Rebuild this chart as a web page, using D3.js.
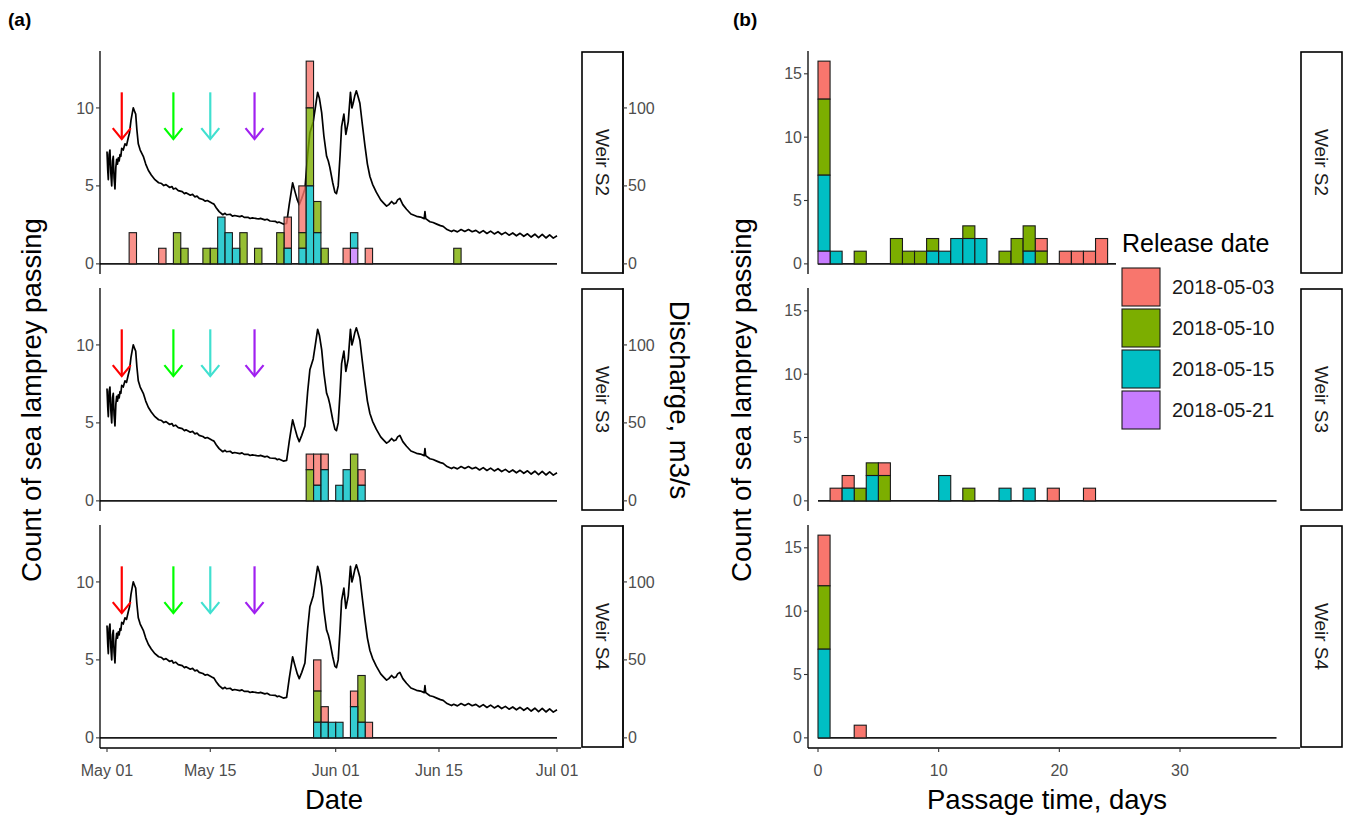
<!DOCTYPE html>
<html>
<head>
<meta charset="utf-8">
<script src="https://cdn.jsdelivr.net/npm/d3@7"></script>
<style>
body { margin: 0; background: #fff; }
text { font-family: "Liberation Sans", Arial, sans-serif; }
</style>
</head>
<body>
<script>
// release groups, facets
var releases = ["2018-05-03", "2018-05-10", "2018-05-15", "2018-05-21"];
var weirs = ["Weir S2", "Weir S3", "Weir S4"];

// (a) daily passage counts: [bin start date, n 05-03, n 05-10, n 05-15, n 05-21]
var passDateS2 = [
  ["2018-05-04", 2, 0, 0, 0], ["2018-05-08", 1, 0, 0, 0], ["2018-05-10", 0, 2, 0, 0],
  ["2018-05-11", 0, 1, 0, 0], ["2018-05-14", 0, 1, 0, 0], ["2018-05-15", 0, 1, 0, 0],
  ["2018-05-16", 0, 0, 3, 0], ["2018-05-17", 0, 0, 2, 0], ["2018-05-18", 0, 0, 1, 0],
  ["2018-05-19", 0, 2, 0, 0], ["2018-05-21", 0, 1, 0, 0], ["2018-05-24", 0, 2, 0, 0],
  ["2018-05-25", 2, 0, 1, 0], ["2018-05-27", 3, 1, 1, 0], ["2018-05-28", 3, 5, 5, 0],
  ["2018-05-29", 0, 2, 2, 0], ["2018-05-30", 0, 1, 0, 0], ["2018-06-02", 1, 0, 0, 0],
  ["2018-06-03", 0, 0, 1, 1], ["2018-06-05", 1, 0, 0, 0], ["2018-06-17", 0, 1, 0, 0]
];
var passDateS3 = [
  ["2018-05-28", 1, 2, 0, 0], ["2018-05-29", 2, 0, 1, 0], ["2018-05-30", 1, 0, 2, 0],
  ["2018-06-01", 0, 0, 1, 0], ["2018-06-02", 0, 0, 2, 0], ["2018-06-03", 0, 3, 0, 0],
  ["2018-06-04", 1, 0, 1, 0]
];
var passDateS4 = [
  ["2018-05-29", 2, 2, 1, 0], ["2018-05-30", 1, 0, 1, 0], ["2018-05-31", 0, 0, 1, 0],
  ["2018-06-01", 0, 0, 1, 0], ["2018-06-03", 1, 0, 2, 0], ["2018-06-04", 0, 3, 1, 0],
  ["2018-06-05", 1, 0, 0, 0]
];
var passDateRange = ["2018-04-30", "2018-07-01"];

// (b) passage time counts: [bin start day, n 05-03, n 05-10, n 05-15, n 05-21]
var passTimeS2 = [
  [0, 3, 6, 6, 1], [1, 0, 0, 1, 0], [3, 0, 1, 0, 0], [6, 0, 2, 0, 0], [7, 0, 1, 0, 0],
  [8, 0, 1, 0, 0], [9, 0, 1, 1, 0], [10, 0, 0, 1, 0], [11, 0, 0, 2, 0], [12, 0, 1, 2, 0],
  [13, 0, 0, 2, 0], [15, 0, 1, 0, 0], [16, 0, 2, 0, 0], [17, 0, 2, 1, 0], [18, 1, 1, 0, 0],
  [20, 1, 0, 0, 0], [21, 1, 0, 0, 0], [22, 1, 0, 0, 0], [23, 2, 0, 0, 0]
];
var passTimeS3 = [
  [1, 1, 0, 0, 0], [2, 1, 0, 1, 0], [3, 0, 1, 0, 0], [4, 0, 1, 2, 0], [5, 1, 2, 0, 0],
  [10, 0, 0, 2, 0], [12, 0, 1, 0, 0], [15, 0, 0, 1, 0], [17, 0, 0, 1, 0], [19, 1, 0, 0, 0],
  [22, 1, 0, 0, 0]
];
var passTimeS4 = [
  [0, 4, 5, 7, 0], [3, 1, 0, 0, 0]
];
var passTimeRange = [0, 38];

// discharge: [days since 2018-05-01, m3/s]
var discharge = [
  [0, 72], [0.1, 60], [0.18, 54], [0.28, 70], [0.4, 73], [0.52, 58], [0.64, 50], [0.75, 66],
  [0.85, 69], [0.96, 55], [1.08, 48], [1.2, 62], [1.31, 67], [1.42, 64], [1.53, 68], [1.65, 66],
  [1.76, 70], [1.88, 69], [1.99, 74], [2.2, 73], [2.44, 77], [2.65, 76], [2.89, 81], [3.05, 84],
  [3.25, 92], [3.4, 96], [3.56, 100], [3.72, 98], [3.89, 96], [4.05, 86], [4.24, 77], [4.5, 73],
  [4.92, 69], [5.25, 64], [5.6, 60], [6, 57], [6.5, 54],
  [7, 52], [7.4, 51.5], [7.7, 50.2], [8, 50.8], [8.5, 49], [8.8, 49.6], [9, 48], [9.3, 48.5],
  [9.66, 47], [10.2, 46.3], [10.5, 45], [10.7, 45.6], [11.3, 44], [11.6, 44.6], [11.9, 43],
  [12.2, 43.4], [12.5, 42], [13, 41.3], [13.3, 40.2], [13.6, 40.6], [14.2, 39], [14.5, 38.3],
  [14.8, 36], [15.2, 33.5], [15.7, 31.5], [16, 32.4], [16.2, 31.5], [16.7, 31.8], [17, 30.6],
  [17.3, 31], [18, 30.3], [18.3, 30.8], [18.6, 29.8], [19.1, 29.9], [19.4, 29.1], [19.7, 29.5],
  [20.3, 29], [20.6, 28.8], [20.8, 29.2], [21.4, 28.2], [21.7, 28.6], [22.1, 27.5], [22.8, 27.3],
  [23.1, 26.4], [23.3, 26.8], [23.9, 25.5],
  [24.35, 26], [24.7, 38], [25.16, 52], [25.5, 46], [25.8, 41], [26.06, 38], [26.4, 42],
  [26.83, 48], [27.2, 70], [27.5, 84], [27.95, 91], [28.3, 102], [28.55, 110], [28.8, 106],
  [29.1, 97], [29.4, 82], [29.77, 69], [30, 66], [30.2, 62], [30.6, 52], [30.89, 46], [31.1, 45],
  [31.34, 50], [31.6, 70], [31.8, 88], [32.11, 96], [32.38, 83], [32.7, 91], [33, 110],
  [33.2, 100], [33.37, 103], [33.6, 108], [33.8, 111], [34.05, 107], [34.28, 103], [34.6, 90],
  [34.96, 76], [35.3, 64], [35.64, 56], [36, 51], [36.5, 46], [37.1, 41], [37.5, 39], [37.9, 37],
  [38.2, 38], [38.58, 40], [38.9, 38.5], [39.16, 39], [39.4, 41], [39.7, 42], [40.1, 38],
  [40.6, 35], [41.2, 32], [41.96, 30.5], [42.5, 30], [43, 29], [43.1, 33.5], [43.2, 29],
  [43.77, 27], [44.2, 26.5], [44.7, 25.5], [45.2, 24.5], [45.57, 24], [46.1, 22], [46.7, 20.7],
  [47, 21.5], [47.5, 20.5], [48, 22], [48.5, 20.8], [49, 22], [49.5, 20.6], [50, 21.5],
  [50.5, 19.8], [51, 21.3], [51.5, 19.5], [52, 21], [52.5, 19.2], [53, 20.6], [53.5, 18.8],
  [54, 20.2], [54.5, 18.4], [55, 19.8], [55.5, 18], [56, 19.6], [56.5, 17.7], [57, 19.3],
  [57.5, 17.2], [58, 19], [58.5, 16.8], [59, 18.9], [59.5, 16.6], [60, 18.6], [60.5, 16.5],
  [61, 18]
];

// ticks
var dateTicks = ["2018-05-01", "2018-05-15", "2018-06-01", "2018-06-15", "2018-07-01"];
var dateTickLabels = ["May 01", "May 15", "Jun 01", "Jun 15", "Jul 01"];
var countTicksA = [0, 5, 10];
var dischargeTicks = [0, 50, 100];
var countTicksB = [0, 5, 10, 15];
var timeTicks = [0, 10, 20, 30];

var fills = ["#F8766D", "#7CAE00", "#00BFC4", "#C77CFF"];
var arrowCols = ["#FF0000", "#00FF00", "#40E0D0", "#A020F0"];

var W = 1346, H = 815;
var svg = d3.select("body").append("svg")
  .attr("width", W)
  .attr("height", H);

var parse = d3.utcParse("%Y-%m-%d");
var panelTop = [51, 288, 525], panelH = 223;
var tickSize = 16, titleSize = 27.5;

var xA = d3.scaleUtc()
  .domain([parse("2018-05-01"), parse("2018-07-01")])
  .range([107, 557]);
var xB = d3.scaleLinear().domain([0, 30]).range([818, 1180]);

var aLeft = 100, aRight = 581, bLeft = 808, bRight = 1300;

var stack = d3.stack().keys([0, 1, 2, 3]).order(d3.stackOrderReverse);

function toRows(tbl, isDate) {
  return tbl.map(function(r) {
    var o = { bin: isDate ? parse(r[0]) : r[0] };
    for (var i = 0; i < 4; i++) o[i] = r[i + 1];
    return o;
  });
}

function drawBars(g, rows, x0, x1, y, opacity) {
  var series = stack(rows);
  series.forEach(function(s) {
    g.selectAll(null)
      .data(s.filter(function(d) { return d[1] > d[0]; }))
      .enter().append("rect")
      .attr("x", function(d) { return x0(d.data.bin); })
      .attr("width", function(d) { return x1(d.data.bin) - x0(d.data.bin); })
      .attr("y", function(d) { return y(d[1]); })
      .attr("height", function(d) { return y(d[0]) - y(d[1]); })
      .attr("fill", fills[s.key])
      .attr("fill-opacity", opacity)
      .attr("stroke", "#1a1a1a")
      .attr("stroke-width", 1.1);
  });
}

function strip(x, top, label) {
  svg.append("rect")
    .attr("x", x).attr("y", top + 1)
    .attr("width", 41).attr("height", panelH - 2)
    .attr("fill", "#fff").attr("stroke", "#000").attr("stroke-width", 1.6);
  svg.append("text")
    .attr("transform", "translate(" + (x + 20.5) + "," + (top + panelH / 2) + ") rotate(90)")
    .attr("text-anchor", "middle").attr("dy", "0.35em")
    .attr("font-size", 19).attr("fill", "#1a1a1a")
    .text(label);
}

function yAxisLeft(x, top, y, ticks) {
  var g = svg.append("g");
  g.append("line").attr("x1", x).attr("x2", x).attr("y1", top).attr("y2", top + panelH)
    .attr("stroke", "#000").attr("stroke-width", 1.3);
  ticks.forEach(function(t) {
    g.append("line").attr("x1", x - 4).attr("x2", x).attr("y1", y(t)).attr("y2", y(t))
      .attr("stroke", "#333").attr("stroke-width", 1.1);
    g.append("text").attr("x", x - 6).attr("y", y(t)).attr("dy", "0.35em")
      .attr("text-anchor", "end").attr("font-size", tickSize).attr("fill", "#4d4d4d").text(t);
  });
}

var passDate = [passDateS2, passDateS3, passDateS4];
var passTime = [passTimeS2, passTimeS3, passTimeS4];
var day0 = parse("2018-05-01").getTime();

weirs.forEach(function(w, i) {
  var top = panelTop[i];
  var yA = d3.scaleLinear().domain([-0.65, 13.65]).range([top + panelH, top]);
  var yQ = d3.scaleLinear().domain([-6.5, 136.5]).range([top + panelH, top]);
  var yB = d3.scaleLinear().domain([-0.8, 16.8]).range([top + panelH, top]);

  // (a) discharge line
  var qLine = d3.line()
    .x(function(d) { return xA(new Date(day0 + d[0] * 864e5)); })
    .y(function(d) { return yQ(d[1]); });
  svg.append("path").attr("d", qLine(discharge))
    .attr("fill", "none").attr("stroke", "#000").attr("stroke-width", 1.7)
    .attr("stroke-linejoin", "round");

  // (a) baseline of empty bins
  svg.append("line")
    .attr("x1", xA(parse(passDateRange[0]))).attr("x2", xA(parse(passDateRange[1])))
    .attr("y1", yA(0)).attr("y2", yA(0))
    .attr("stroke", "#1a1a1a").attr("stroke-width", 1.8);

  var gA = svg.append("g");
  drawBars(gA, toRows(passDate[i], true),
    function(b) { return xA(b); },
    function(b) { return xA(d3.utcDay.offset(b, 1)); },
    yA, 0.8);

  // release arrows
  releases.forEach(function(r, k) {
    var ax = xA(parse(r)), y0 = yA(11), y1 = yA(8);
    var g = svg.append("g").attr("stroke", arrowCols[k]).attr("stroke-width", 2.2)
      .attr("fill", "none").attr("stroke-linecap", "butt");
    g.append("line").attr("x1", ax).attr("x2", ax).attr("y1", y0).attr("y2", y1);
    g.append("path").attr("d", "M" + (ax - 9) + "," + (y1 - 11) + "L" + ax + "," + y1 + "L" + (ax + 9) + "," + (y1 - 11));
  });

  yAxisLeft(aLeft, top, yA, countTicksA);
  strip(582, top, w);

  // secondary axis
  var gS = svg.append("g");
  gS.append("line").attr("x1", 623).attr("x2", 623).attr("y1", top).attr("y2", top + panelH)
    .attr("stroke", "#000").attr("stroke-width", 1.2);
  dischargeTicks.forEach(function(t) {
    gS.append("line").attr("x1", 623).attr("x2", 627).attr("y1", yQ(t)).attr("y2", yQ(t))
      .attr("stroke", "#333").attr("stroke-width", 1.1);
    gS.append("text").attr("x", 628).attr("y", yQ(t)).attr("dy", "0.35em")
      .attr("font-size", tickSize).attr("fill", "#4d4d4d").text(t);
  });

  // (b) histogram
  svg.append("line")
    .attr("x1", xB(passTimeRange[0])).attr("x2", xB(passTimeRange[1]))
    .attr("y1", yB(0)).attr("y2", yB(0))
    .attr("stroke", "#1a1a1a").attr("stroke-width", 1.8);
  var gB = svg.append("g");
  drawBars(gB, toRows(passTime[i], false),
    function(b) { return xB(b); },
    function(b) { return xB(b + 1); },
    yB, 1);

  yAxisLeft(bLeft, top, yB, countTicksB);
  strip(1301, top, w);
});

// bottom x axes
function xAxis(x0, x1, scale, ticks, labels) {
  var y = panelTop[2] + panelH;
  svg.append("line").attr("x1", x0).attr("x2", x1).attr("y1", y).attr("y2", y)
    .attr("stroke", "#000").attr("stroke-width", 1.3);
  ticks.forEach(function(t, k) {
    var x = scale(t);
    svg.append("line").attr("x1", x).attr("x2", x).attr("y1", y).attr("y2", y + 4)
      .attr("stroke", "#333").attr("stroke-width", 1.1);
    svg.append("text").attr("x", x).attr("y", y + 22).attr("dy", "0.35em")
      .attr("text-anchor", "middle").attr("font-size", tickSize).attr("fill", "#4d4d4d")
      .text(labels[k]);
  });
}
xAxis(aLeft, aRight, xA, dateTicks.map(parse), dateTickLabels);
xAxis(bLeft, bRight, xB, timeTicks, timeTicks);

// titles
function title(x, y, rot, txt) {
  svg.append("text")
    .attr("transform", "translate(" + x + "," + y + ")" + (rot ? " rotate(" + rot + ")" : ""))
    .attr("text-anchor", "middle").attr("dy", "0.35em")
    .attr("font-size", titleSize).attr("fill", "#000").text(txt);
}
title(334, 799, 0, "Date");
title(1047, 799, 0, "Passage time, days");
title(31, 400, -90, "Count of sea lamprey passing");
title(741, 400, -90, "Count of sea lamprey passing");
title(680, 400, 90, "Discharge, m3/s");

svg.append("text").attr("x", 8).attr("y", 26).attr("font-size", 19)
  .attr("font-weight", "bold").text("(a)");
svg.append("text").attr("x", 733).attr("y", 26).attr("font-size", 19)
  .attr("font-weight", "bold").text("(b)");

// legend
var leg = svg.append("g").attr("transform", "translate(1122,0)");
leg.append("rect").attr("x", -6).attr("y", 222).attr("width", 172).attr("height", 214).attr("fill", "#fff");
leg.append("text").attr("x", 0).attr("y", 252).attr("font-size", 25).text("Release date");
releases.forEach(function(r, k) {
  var y = 268 + k * 41;
  leg.append("rect").attr("x", 0).attr("y", y).attr("width", 38).attr("height", 38)
    .attr("fill", fills[k]).attr("stroke", "#1a1a1a").attr("stroke-width", 1.1);
  leg.append("text").attr("x", 50).attr("y", y + 19).attr("dy", "0.35em")
    .attr("font-size", 20).attr("fill", "#1a1a1a").text(r);
});
</script>
</body>
</html>
